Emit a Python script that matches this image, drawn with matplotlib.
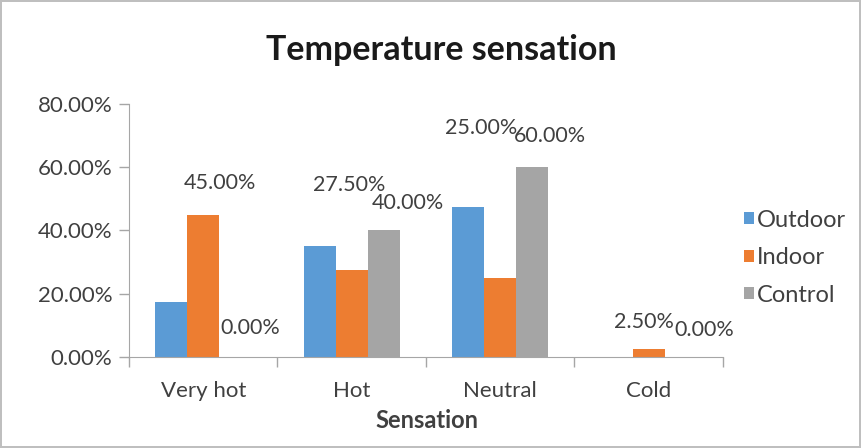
import numpy as np
import matplotlib.pyplot as plt
from matplotlib.ticker import PercentFormatter, FixedLocator

categories = ["Very hot", "Hot", "Neutral", "Cold"]
series_names = ["Outdoor", "Indoor", "Control"]
outdoor = [0.175, 0.35, 0.475, 0.0]
indoor = [0.45, 0.275, 0.25, 0.025]
control = [0.0, 0.40, 0.60, 0.0]
colors = ["#5B9BD5", "#ED7D31", "#A5A5A5"]

# label offsets (pixels) from the top centre of each labelled bar, as placed in the original
indoor_offsets = [(17, 32), (-3, 85), (-19, 150), (-5, 27)]
control_offsets = [(15, 29), (24, 27), (18, 31), (23, 27)]

plt.rcParams['font.family'] = ['Lato', 'DejaVu Sans']
txt = '#404040'

fig = plt.figure(figsize=(8.61, 4.48), dpi=100)
fig.patch.set_edgecolor('#BFBFBF')
fig.patch.set_linewidth(1.5)
ax = fig.add_axes([0.1498, 0.2031, 0.6899, 0.5648])

x = np.arange(len(categories))
w = 0.216
bars = []
for i, (vals, name) in enumerate(zip([outdoor, indoor, control], series_names)):
    b = ax.bar(x + (i - 1) * w, vals, width=w, color=colors[i], label=name)
    bars.append(b)

for b, offs in [(bars[1], indoor_offsets), (bars[2], control_offsets)]:
    for rect, (dx, dy) in zip(b, offs):
        ax.annotate("{:.2f}%".format(rect.get_height() * 100),
                    (rect.get_x() + rect.get_width() / 2, rect.get_height()),
                    xytext=(dx, dy), textcoords='offset pixels',
                    ha='center', va='center', fontsize=15.5, color=txt)

ax.set_xlim(-0.5, len(categories) - 0.5)
ax.set_ylim(0, 0.8)
ax.set_yticks([0, 0.2, 0.4, 0.6, 0.8])
ax.yaxis.set_major_formatter(PercentFormatter(1.0, decimals=2))
ax.set_xticks(x)
ax.set_xticklabels(categories)
ax.xaxis.set_minor_locator(FixedLocator(np.arange(-0.5, len(categories), 1.0)))
ax.tick_params(axis='x', which='major', length=0, pad=17, labelsize=16, labelcolor=txt)
ax.tick_params(axis='x', which='minor', length=7, color='#A6A6A6', width=1)
ax.tick_params(axis='y', length=7, color='#A6A6A6', width=1, pad=5, labelsize=16, labelcolor=txt)

for s in ['top', 'right']:
    ax.spines[s].set_visible(False)
for s in ['left', 'bottom']:
    ax.spines[s].set_color('#A6A6A6')

ax.set_xlabel("Sensation", fontsize=17, fontweight='bold', color=txt)
ax.xaxis.set_label_coords(0.502, -0.205)
fig.text(0.513, 0.888, "Temperature sensation", ha='center', va='center',
         fontsize=24.5, fontweight='bold', color='#1A1A1A')

ax.legend(loc='center left', bbox_to_anchor=(1.035, 0.393), frameon=False, fontsize=17,
          handlelength=0.42, handleheight=0.42, handletextpad=0.12, labelspacing=0.7,
          borderpad=0, borderaxespad=0, labelcolor=txt)

fig.savefig("out.png", dpi=100)
